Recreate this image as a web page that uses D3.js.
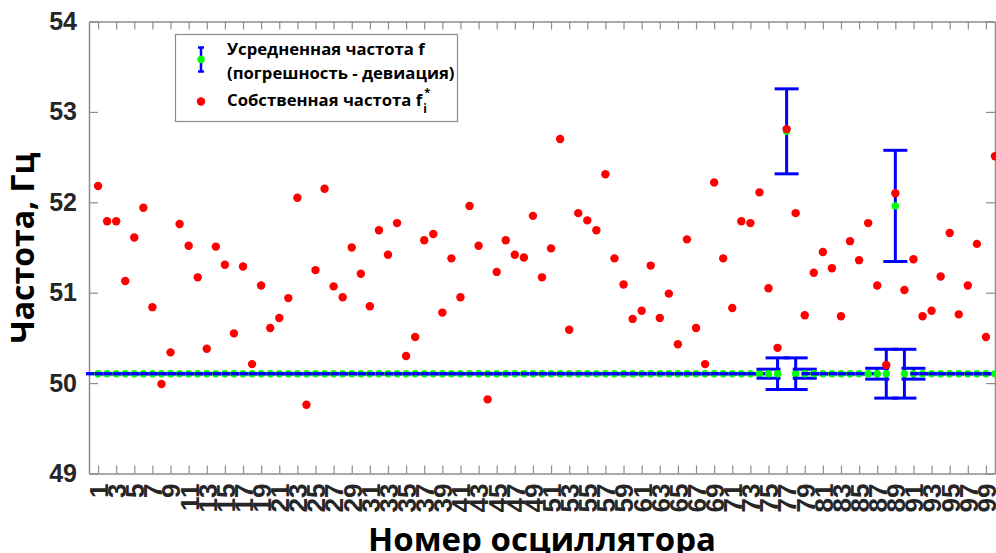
<!DOCTYPE html>
<html><head><meta charset="utf-8">
<script src="https://cdn.jsdelivr.net/npm/d3@7"></script>
<style>
html,body{margin:0;padding:0;background:#fff;overflow:hidden}
svg{display:block}
</style></head>
<body>
<svg id="chart" width="996" height="553"></svg>
<script>
// ---- data ----
const oscillators = d3.range(1, 101);
const ownFreq = [52.18,51.79,51.79,51.13,51.61,51.94,50.84,49.99,50.34,51.76,
51.52,51.17,50.38,51.51,51.31,50.55,51.29,50.21,51.08,50.61,
50.72,50.94,52.05,49.76,51.25,52.15,51.07,50.95,51.50,51.21,
50.85,51.69,51.42,51.77,50.30,50.51,51.58,51.65,50.78,51.38,
50.95,51.96,51.52,49.82,51.23,51.58,51.42,51.39,51.85,51.17,
51.49,52.70,50.59,51.88,51.80,51.69,52.31,51.38,51.09,50.71,
50.80,51.30,50.72,50.99,50.43,51.59,50.61,50.21,52.22,51.38,
50.83,51.79,51.77,52.11,51.05,50.39,52.81,51.88,50.75,51.22,
51.45,51.27,50.74,51.57,51.36,51.77,51.08,50.20,52.10,51.03,
51.37,50.74,50.80,51.18,51.66,50.76,51.08,51.54,50.51,52.51];
const meanFreq = [50.104,50.104,50.104,50.104,50.104,50.104,50.104,50.104,50.104,50.104,
50.104,50.104,50.104,50.104,50.104,50.104,50.104,50.104,50.104,50.104,
50.104,50.104,50.104,50.104,50.104,50.104,50.104,50.104,50.104,50.104,
50.104,50.104,50.104,50.104,50.104,50.104,50.104,50.104,50.104,50.104,
50.104,50.104,50.104,50.104,50.104,50.104,50.104,50.104,50.104,50.104,
50.104,50.104,50.104,50.104,50.104,50.104,50.104,50.104,50.104,50.104,
50.104,50.104,50.104,50.104,50.104,50.104,50.104,50.104,50.104,50.104,
50.104,50.104,50.104,50.104,50.104,50.104,52.785,50.104,50.104,50.104,
50.104,50.104,50.104,50.104,50.104,50.104,50.104,50.104,51.96,50.104,
50.104,50.104,50.104,50.104,50.104,50.104,50.104,50.104,50.104,50.104];
const deviation = [0,0,0,0,0,0,0,0,0,0,
0,0,0,0,0,0,0,0,0,0,
0,0,0,0,0,0,0,0,0,0,
0,0,0,0,0,0,0,0,0,0,
0,0,0,0,0,0,0,0,0,0,
0,0,0,0,0,0,0,0,0,0,
0,0,0,0,0,0,0,0,0,0,
0,0,0,0,0.05,0.175,0.47,0.175,0.05,0,
0,0,0,0,0,0,0.06,0.27,0.615,0.27,
0.06,0,0,0,0,0,0,0,0,0];
const xTickValues = [1,3,5,7,9,11,13,15,17,19,21,23,25,27,29,31,33,35,37,39,41,43,45,47,49,
51,53,55,57,59,61,63,65,67,69,71,73,75,77,79,81,83,85,87,89,91,93,95,97,99];
const yTickValues = [49,50,51,52,53,54];
const xTitle = "Номер осциллятора";
const yTitle = "Частота, Гц";
const legendMean = ["Усредненная частота f", "(погрешность - девиация)"];
const legendOwn = "Собственная частота f";

// ---- layout ----
const svg = d3.select("#chart");
const L = 89, R = 995, T = 21.5, B = 473.5;
const x = d3.scaleLinear().domain([0, 100]).range([L, R]);
const y = d3.scaleLinear().domain([49, 54]).range([B, T]);
const axisColor = "#8c8c8c";
const tickFont = "'Liberation Sans', Arial, sans-serif";
const titleFont = "'Open Sans', 'Noto Sans', sans-serif";

// axes box with inward ticks
const gx = svg.append("g").attr("transform", `translate(0,${B})`)
  .call(d3.axisBottom(x).tickValues(xTickValues).tickSizeInner(-8).tickSizeOuter(0).tickFormat(d => d));
gx.selectAll(".tick text").attr("transform", "rotate(-90)")
  .attr("x", -10).attr("y", 0).attr("dy", "0.36em")
  .style("text-anchor", "end")
  .style("font", `bold 26px ${tickFont}`).attr("fill", "#262626");
const gxt = svg.append("g").attr("transform", `translate(0,${T})`)
  .call(d3.axisTop(x).tickValues(xTickValues).tickSizeInner(-8).tickSizeOuter(0).tickFormat(""));
const gy = svg.append("g").attr("transform", `translate(${L},0)`)
  .call(d3.axisLeft(y).tickValues(yTickValues).tickSizeInner(-9).tickSizeOuter(0).tickPadding(12).tickFormat(d => d));
gy.selectAll(".tick text").style("font", `bold 25px ${tickFont}`).attr("fill", "#262626");
const gyr = svg.append("g").attr("transform", `translate(${R},0)`)
  .call(d3.axisRight(y).tickValues(yTickValues).tickSizeInner(-9).tickSizeOuter(0).tickFormat(""));
[gx, gxt, gy, gyr].forEach(g => {
  g.select(".domain").attr("stroke", axisColor).attr("stroke-width", 1.5);
  g.selectAll(".tick line").attr("stroke", axisColor).attr("stroke-width", 1.2);
});

// error bars + green markers (per point, in order)
const cap = 12;
const grp = svg.append("g");
oscillators.forEach((o, i) => {
  const cx = x(o), m = meanFreq[i], d = deviation[i];
  const g = grp.append("g").attr("stroke", "#0000ff").attr("stroke-width", 3).attr("fill", "none");
  g.append("line").attr("x1", cx).attr("x2", cx).attr("y1", y(m + d)).attr("y2", y(m - d));
  g.append("line").attr("x1", cx - cap).attr("x2", cx + cap).attr("y1", y(m + d)).attr("y2", y(m + d));
  g.append("line").attr("x1", cx - cap).attr("x2", cx + cap).attr("y1", y(m - d)).attr("y2", y(m - d));
  grp.append("circle").attr("cx", cx).attr("cy", y(m)).attr("r", 3.7).attr("fill", "#00ff00");
});

// own frequency red dots
svg.append("g").selectAll("circle").data(oscillators).join("circle")
  .attr("cx", d => x(d)).attr("cy", (d, i) => y(ownFreq[i])).attr("r", 4.2).attr("fill", "#ff0000");

// titles
svg.append("text").attr("x", (L + R) / 2).attr("y", 551).attr("text-anchor", "middle")
  .style("font", `bold 33px ${titleFont}`).attr("fill", "#000").text(xTitle);
svg.append("text").attr("transform", `translate(34,248) rotate(-90)`).attr("text-anchor", "middle")
  .style("font", `bold 32px ${titleFont}`).attr("fill", "#000").text(yTitle);

// legend
const lg = svg.append("g");
lg.append("rect").attr("x", 175.5).attr("y", 34.5).attr("width", 282).attr("height", 87)
  .attr("fill", "#fff").attr("stroke", axisColor).attr("stroke-width", 1.2);
const ix = 201;
const lb = lg.append("g").attr("stroke", "#0000ff").attr("stroke-width", 2.5);
lb.append("line").attr("x1", ix).attr("x2", ix).attr("y1", 47.5).attr("y2", 71.5);
lb.append("line").attr("x1", ix - 3).attr("x2", ix + 3).attr("y1", 47.5).attr("y2", 47.5);
lb.append("line").attr("x1", ix - 3).attr("x2", ix + 3).attr("y1", 71.5).attr("y2", 71.5);
lg.append("circle").attr("cx", ix).attr("cy", 59.5).attr("r", 3.7).attr("fill", "#00ff00");
lg.append("circle").attr("cx", ix).attr("cy", 101.5).attr("r", 4.2).attr("fill", "#ff0000");
const lt = lg.append("g").style("font", `bold 16.7px ${titleFont}`).attr("fill", "#000");
lt.append("text").attr("x", 227).attr("y", 55).text(legendMean[0]);
lt.append("text").attr("x", 227).attr("y", 79).text(legendMean[1]);
const t3 = lt.append("text").attr("x", 227).attr("y", 106).text(legendOwn);
const bb = t3.node().getBBox();
lt.append("text").attr("x", bb.x + bb.width + 0.5).attr("y", 96).style("font-size", "11px").text("*");
lt.append("text").attr("x", bb.x + bb.width - 0.5).attr("y", 113).style("font-size", "12px").text("i");
</script>
</body></html>
